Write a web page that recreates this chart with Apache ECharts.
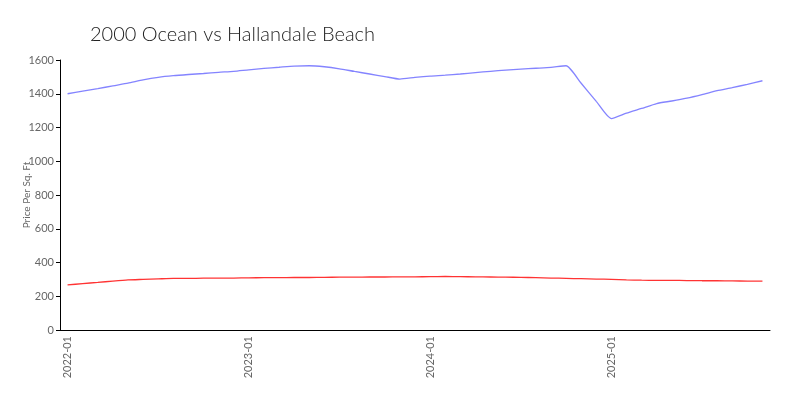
<!DOCTYPE html>
<html>
<head>
<meta charset="utf-8">
<script src="https://cdn.jsdelivr.net/npm/echarts@6/dist/echarts.min.js"></script>
<style>html,body{margin:0;padding:0;background:#fff}#c{width:800px;height:400px}</style>
</head>
<body>
<div id="c"></div>
<script>
const months = [
  "2022-01","2022-02","2022-03","2022-04","2022-05","2022-06","2022-07","2022-08","2022-09","2022-10","2022-11","2022-12",
  "2023-01","2023-02","2023-03","2023-04","2023-05","2023-06","2023-07","2023-08","2023-09","2023-10","2023-11","2023-12",
  "2024-01","2024-02","2024-03","2024-04","2024-05","2024-06","2024-07","2024-08","2024-09","2024-10","2024-11","2024-12",
  "2025-01","2025-02","2025-03","2025-04","2025-05","2025-06","2025-07","2025-08","2025-09","2025-10","2025-11"
];
const ocean2000 = [
  1400,1415,1430,1447,1463,1482,1497,1507,1514,1520,1527,1533,
  1542,1550,1557,1564,1566,1560,1548,1532,1517,1502,1487,1497,
  1505,1510,1517,1525,1533,1540,1546,1551,1556,1566,1462,1355,
  1253,1285,1313,1342,1357,1374,1395,1418,1436,1456,1477
];
const hallandale = [
  267,275,282,290,297,300,303,306,306,307,308,308,
  309,310,310,311,311,312,313,313,314,314,315,315,
  316,317,316,315,314,313,312,310,308,306,304,302,
  300,297,295,294,294,293,292,292,291,290,290
];
const yTicks = { min: 0, max: 1600, interval: 200 };
const titleText = "2000 Ocean vs Hallandale Beach";
const yName = "Price Per Sq. Ft";

const FONT = "Lato, 'Noto Sans', sans-serif";
const NARROW = "'Liberation Sans Narrow', 'Arial Narrow', Lato, sans-serif";
const chart = echarts.init(document.getElementById('c'), null, { renderer: 'canvas' });
chart.setOption({
  animation: false,
  backgroundColor: '#fff',
  title: {
    text: titleText, left: 85, top: 20,
    textStyle: { fontFamily: FONT, fontWeight: 300, fontSize: 20, color: '#222' }
  },
  grid: { left: 60, right: 30, top: 60, bottom: 70 },
  xAxis: [
    {
      type: 'category', data: months, boundaryGap: true, position: 'bottom',
      axisLine: { lineStyle: { color: '#000', width: 1 } },
      axisTick: { interval: 0, alignWithLabel: true, length: 3, lineStyle: { color: '#aaa' } },
      axisLabel: { interval: 11, rotate: 90, margin: 6, fontFamily: NARROW, fontSize: 11, color: '#666' },
      splitLine: { show: false }
    },
    {
      type: 'category', data: months, boundaryGap: true, position: 'bottom',
      axisLine: { show: false },
      axisTick: { interval: 11, alignWithLabel: true, length: 4, lineStyle: { color: '#000', width: 1 } },
      axisLabel: { show: false },
      splitLine: { show: false }
    }
  ],
  yAxis: {
    type: 'value', min: yTicks.min, max: yTicks.max, interval: yTicks.interval,
    name: yName, nameLocation: 'middle', nameGap: 28, nameMoveOverlap: false,
    nameTextStyle: { fontFamily: NARROW, fontSize: 10, color: '#666' },
    axisLine: { show: true, lineStyle: { color: '#000', width: 1 } },
    axisTick: { show: true, length: 4, lineStyle: { color: '#000' } },
    axisLabel: { margin: 6, formatter: function (v) { return String(v); }, fontFamily: NARROW, fontSize: 11, color: '#666' },
    splitLine: { show: false }
  },
  series: [
    {
      name: '2000 Ocean', type: 'line', data: ocean2000, xAxisIndex: 0,
      showSymbol: false, smooth: 0.2,
      lineStyle: { color: 'rgba(110,110,255,0.85)', width: 1.3 }
    },
    {
      name: 'Hallandale Beach', type: 'line', data: hallandale, xAxisIndex: 0,
      showSymbol: false, smooth: 0.2,
      lineStyle: { color: 'rgba(255,0,0,0.8)', width: 1.3 }
    }
  ]
});
</script>
</body>
</html>
